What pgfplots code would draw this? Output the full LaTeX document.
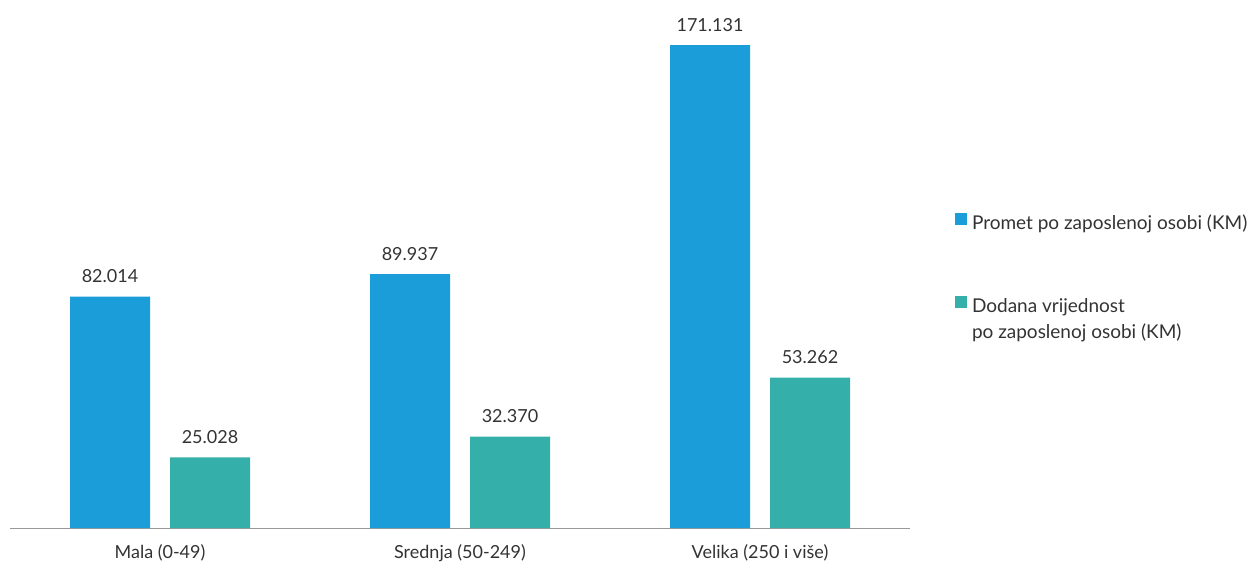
\documentclass[border=0pt]{standalone}
\usepackage{fontspec}
\setmainfont{Lato}
\usepackage{pgfplots}
\pgfplotsset{compat=1.18}
\definecolor{cblue}{HTML}{1B9DD9}
\definecolor{cteal}{HTML}{35AFA9}
\definecolor{txt}{HTML}{333333}
\definecolor{axgray}{HTML}{999999}
\newcommand\lblfont{\fontsize{18}{25}\selectfont}
\newcommand\legfont{\fontsize{19}{26}\selectfont}
\begin{document}
\begin{tikzpicture}[x=1pt,y=1pt]
\path[use as bounding box] (0,0) rectangle (1251,566);
\begin{axis}[
  at={(10pt,38pt)}, anchor=south west,
  scale only axis, width=900pt, height=508pt,
  xmin=-0.5, xmax=2.5, ymin=0, ymax=180000,
  ybar=20pt, bar width=80pt,
  axis lines*=left,
  y axis line style={draw=none},
  x axis line style={draw=axgray, line width=1pt},
  ytick=\empty,
  xtick={0,1,2},
  xticklabels={Mala (0-49), Srednja (50-249), Velika (250 i više)},
  major tick length=0pt,
  xticklabel style={font=\lblfont, text=txt, anchor=base, yshift=-30pt},
  nodes near coords={\pgfmathprintnumber[fixed, precision=0, 1000 sep={.}, assume math mode=true]{\pgfplotspointmeta}},
  nodes near coords style={font=\lblfont, text=txt, anchor=base, yshift=14pt},
  legend style={at={(1.05,0.620)}, anchor=north west, draw=none, fill=none,
    inner sep=0pt, outer sep=0pt, row sep=62pt,
    font=\legfont, text=txt,
    nodes={inner sep=0pt, text height=13pt, text depth=4pt},
    /tikz/column 1/.style={column sep=5pt}},
  legend cell align=left,
  legend image code/.code={\fill[#1,draw=none] (0pt,0pt) rectangle (12pt,12pt);},
]
\addplot[fill=cblue, draw=none] coordinates {(0,82014) (1,89937) (2,171131)};
\addplot[fill=cteal, draw=none] coordinates {(0,25028) (1,32370) (2,53262)};
\legend{Promet po zaposlenoj osobi (KM), {\begin{tabular}[t]{@{}l@{}}Dodana vrijednost\\po zaposlenoj osobi (KM)\end{tabular}}}
\end{axis}
\end{tikzpicture}
\end{document}
